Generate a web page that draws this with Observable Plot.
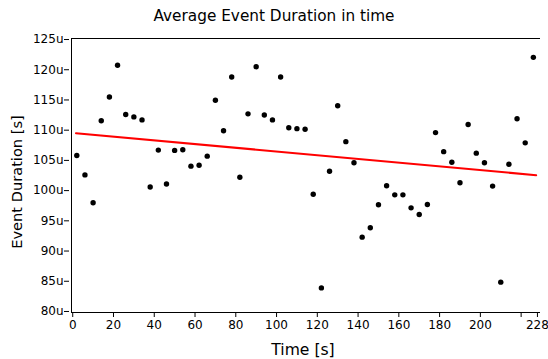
<!DOCTYPE html>
<html>
<head>
<meta charset="utf-8">
<script src="https://cdn.jsdelivr.net/npm/d3@7"></script>
<script src="https://cdn.jsdelivr.net/npm/@observablehq/plot@0.6"></script>
<style>
  html, body { margin: 0; padding: 0; background: #fff; }
  #wrap { width: 548px; height: 359px; position: relative; font-family: "DejaVu Sans", Verdana, sans-serif; }
  #title { height: 30px; line-height: 32px; text-align: center; font-size: 15.3px; color: #000; }
</style>
</head>
<body>
<div id="wrap">
  <div id="title">Average Event Duration in time</div>
  <div id="chart"></div>
</div>
<script>
// Time (s) of each sample
const times = [2, 6, 10, 14, 18, 22, 26, 30, 34, 38, 42, 46, 50, 54, 58, 62, 66, 70, 74, 78,
  82, 86, 90, 94, 98, 102, 106, 110, 114, 118, 122, 126, 130, 134, 138, 142, 146, 150, 154, 158,
  162, 166, 170, 174, 178, 182, 186, 190, 194, 198, 202, 206, 210, 214, 218, 222, 226];
// Average event duration (micro-seconds, labelled "u")
const durations = [105.8, 102.6, 98.0, 111.55, 115.5, 120.75, 112.6, 112.2, 111.7, 100.6,
  106.7, 101.1, 106.65, 106.75, 104.05, 104.2, 105.7, 114.95, 109.9, 118.8,
  102.2, 112.7, 120.5, 112.5, 111.7, 118.8, 110.4, 110.25, 110.15, 99.4,
  83.9, 103.2, 114.05, 108.1, 104.6, 92.3, 93.85, 97.65, 100.8, 99.3,
  99.3, 97.15, 96.05, 97.7, 109.6, 106.45, 104.7, 101.3, 110.95, 106.2,
  104.6, 100.75, 84.85, 104.35, 111.9, 107.9, 122.05];
// Trend line end points
const trendTimes = [1.6, 227.4];
const trendValues = [109.5, 102.55];
// Axis ticks
const xTicks = [0, 20, 40, 60, 80, 100, 120, 140, 160, 180, 200, 220, 228];
const xTickLabels = ["0", "20", "40", "60", "80", "100", "120", "140", "160", "180", "200", "", "228"];
const yTicks = [80, 85, 90, 95, 100, 105, 110, 115, 120, 125];
const xDomain = [-0.6, 229.5];
const yDomain = [79.83, 125.17];

const points = times.map((t, i) => ({t, v: durations[i]}));
const trend = trendTimes.map((t, i) => ({t, v: trendValues[i]}));

const chart = Plot.plot({
  width: 548,
  height: 329,
  marginTop: 8,
  marginBottom: 47,
  marginLeft: 71,
  marginRight: 8,
  style: {fontFamily: "DejaVu Sans, Verdana, sans-serif", fontSize: "12px", color: "#000", background: "#fff"},
  x: {domain: xDomain},
  y: {domain: yDomain},
  marks: [
    Plot.axisX({ticks: xTicks, tickFormat: (d) => xTickLabels[xTicks.indexOf(d)], tickSize: 5, tickPadding: 3,
      label: null, fontSize: 12}),
    Plot.axisY({ticks: yTicks, tickFormat: (d) => d + "u", tickSize: 5, tickPadding: 1, dx: -2,
      label: null, fontSize: 12}),
    Plot.ruleY([yDomain[0], yDomain[1]], {stroke: "#000", strokeWidth: 1}),
    Plot.ruleX([xDomain[0]], {stroke: "#000", strokeWidth: 1}),
    Plot.dot(points, {x: "t", y: "v", r: 2.7, fill: "#000", stroke: "none"}),
    Plot.line(trend, {x: "t", y: "v", stroke: "#ff0000", strokeWidth: 2})
  ]
});
document.getElementById("chart").appendChild(chart);

// Axis titles, placed relative to the plot frame
const svg = d3.select(chart);
svg.append("text")
  .attr("x", 303)
  .attr("y", 325)
  .attr("text-anchor", "middle")
  .attr("font-size", 15.6)
  .attr("fill", "#000")
  .text("Time [s]");
svg.append("text")
  .attr("transform", `translate(22, 152) rotate(-90)`)
  .attr("text-anchor", "middle")
  .attr("font-size", 14.6)
  .attr("fill", "#000")
  .text("Event Duration [s]");
</script>
</body>
</html>
